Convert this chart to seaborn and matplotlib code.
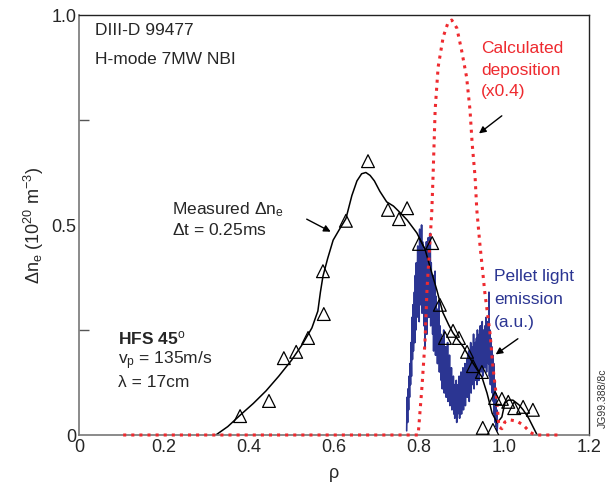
import numpy as np
import pandas as pd
import matplotlib
matplotlib.use("Agg")
import matplotlib.pyplot as plt
import seaborn as sns

# ---------------- data ----------------
# measured points (triangles)
tri_rho = [0.379, 0.447, 0.482, 0.511, 0.539, 0.576, 0.574, 0.628, 0.680, 0.727,
           0.753, 0.772, 0.800, 0.831, 0.849, 0.861, 0.880, 0.894, 0.913, 0.927,
           0.948, 0.979, 0.995, 1.010, 1.024, 1.045, 1.068, 0.950, 0.974]
tri_dn = [0.045, 0.081, 0.183, 0.198, 0.231, 0.288, 0.390, 0.510, 0.652, 0.536,
          0.514, 0.540, 0.455, 0.457, 0.310, 0.231, 0.248, 0.231, 0.198, 0.164,
          0.150, 0.088, 0.086, 0.079, 0.064, 0.067, 0.060, 0.017, 0.012]

# measured fit curve (black)
fit_rho = [0.322, 0.350, 0.380, 0.410, 0.440, 0.470, 0.500, 0.525, 0.548, 0.562,
           0.568, 0.574, 0.585, 0.598, 0.613, 0.628, 0.642, 0.654, 0.665, 0.675,
           0.685, 0.695, 0.708, 0.724, 0.740, 0.755, 0.772, 0.795, 0.814, 0.826,
           0.842, 0.856, 0.870, 0.880, 0.904, 0.927, 0.948, 0.960, 0.972, 0.984,
           0.995, 1.002, 1.010, 1.021, 1.035, 1.045, 1.058, 1.068, 1.078]
fit_dn = [0.000, 0.020, 0.048, 0.075, 0.105, 0.140, 0.178, 0.215, 0.255, 0.295,
          0.340, 0.378, 0.420, 0.464, 0.490, 0.515, 0.570, 0.605, 0.622, 0.625,
          0.618, 0.605, 0.580, 0.555, 0.545, 0.530, 0.512, 0.481, 0.443, 0.400,
          0.345, 0.292, 0.262, 0.243, 0.210, 0.171, 0.138, 0.100, 0.052, 0.029,
          0.043, 0.076, 0.083, 0.083, 0.072, 0.060, 0.040, 0.020, 0.000]

# calculated deposition x0.4 (red dotted)
dep_rho = [0.104, 0.798, 0.807, 0.814, 0.819, 0.826, 0.830, 0.833, 0.838, 0.845,
           0.857, 0.868, 0.877, 0.889, 0.900, 0.912, 0.920, 0.925, 0.932, 0.936,
           0.943, 0.955, 0.967, 0.974, 0.983, 0.988, 0.995, 1.002, 1.014, 1.030,
           1.045, 1.061, 1.073, 1.137]
dep_dn = [0.000, 0.000, 0.115, 0.220, 0.350, 0.464, 0.530, 0.614, 0.774, 0.876,
          0.948, 0.981, 0.988, 0.969, 0.917, 0.852, 0.774, 0.695, 0.614, 0.536,
          0.457, 0.338, 0.243, 0.162, 0.083, 0.019, 0.015, 0.031, 0.036, 0.033,
          0.024, 0.007, 0.000, 0.000]

# pellet light emission (blue), sampled evenly from rho_start to rho_end
emis_rho_start, emis_rho_end = 0.771, 0.985
emis = [0.01, 0.09, 0.03, 0.11, 0.06, 0.14, 0.09, 0.17, 0.12,
        0.22, 0.14, 0.28, 0.18, 0.31, 0.20, 0.26, 0.34, 0.22,
        0.38, 0.25, 0.41, 0.28, 0.36, 0.45, 0.30, 0.42, 0.27,
        0.49, 0.31, 0.44, 0.36, 0.50, 0.29, 0.46, 0.34, 0.41,
        0.26, 0.44, 0.21, 0.38, 0.30, 0.46, 0.24, 0.40, 0.32,
        0.47, 0.28, 0.43, 0.33, 0.48, 0.26, 0.41, 0.30, 0.37,
        0.24, 0.38, 0.20, 0.35, 0.27, 0.39, 0.19, 0.33, 0.25,
        0.30, 0.17, 0.28, 0.21, 0.32, 0.15, 0.26, 0.18, 0.24,
        0.13, 0.23, 0.11, 0.20, 0.14, 0.25, 0.10, 0.19, 0.12,
        0.21, 0.09, 0.18, 0.12, 0.22, 0.08, 0.17, 0.11, 0.19,
        0.07, 0.15, 0.09, 0.16, 0.06, 0.13, 0.08, 0.14, 0.05,
        0.12, 0.04, 0.11, 0.07, 0.13, 0.03, 0.10, 0.05, 0.12,
        0.06, 0.14, 0.04, 0.11, 0.07, 0.15, 0.05, 0.12, 0.08,
        0.16, 0.06, 0.13, 0.09, 0.17, 0.07, 0.14, 0.10, 0.18,
        0.09, 0.19, 0.11, 0.20, 0.08, 0.17, 0.12, 0.22, 0.10,
        0.21, 0.12, 0.19, 0.14, 0.24, 0.11, 0.20, 0.13, 0.22,
        0.14, 0.23, 0.12, 0.25, 0.16, 0.21, 0.13, 0.24, 0.17,
        0.26, 0.15, 0.23, 0.18, 0.27, 0.14, 0.25, 0.17, 0.22,
        0.16, 0.26, 0.19, 0.28, 0.15, 0.24, 0.20, 0.27, 0.17,
        0.34, 0.14, 0.25, 0.12, 0.23, 0.16, 0.21, 0.10, 0.19,
        0.08, 0.17, 0.05, 0.13, 0.03, 0.10, 0.02, 0.06, 0.01, 0.03]
emis_rho = np.linspace(emis_rho_start, emis_rho_end, len(emis))

x_ticks = [0, 0.2, 0.4, 0.6, 0.8, 1.0, 1.2]
x_ticklabels = ["0", "0.2", "0.4", "0.6", "0.8", "1.0", "1.2"]
y_ticks = [0, 0.5, 1.0]
y_ticklabels = ["0", "0.5", "1.0"]

# ---------------- style ----------------
sns.set_style("white")
plt.rcParams["font.family"] = ["Liberation Sans", "DejaVu Sans"]
plt.rcParams["mathtext.fontset"] = "custom"
plt.rcParams["mathtext.rm"] = "Liberation Sans"
plt.rcParams["mathtext.it"] = "Liberation Sans"

RED = "#ee2a2f"
BLUE = "#2b3592"

fig = plt.figure(figsize=(6.11, 4.92), dpi=100)
ax = fig.add_axes([79 / 611, 57 / 492, 510 / 611, 420 / 492])

sns.lineplot(x=[float(v) for v in emis_rho], y=emis, ax=ax, color=BLUE,
             linewidth=1.2, sort=False, estimator=None)
sns.lineplot(x=dep_rho, y=dep_dn, ax=ax, color=RED, linewidth=2.2,
             linestyle=":", sort=False, estimator=None, clip_on=False,
             zorder=4)
sns.lineplot(x=fit_rho, y=fit_dn, ax=ax, color="black", linewidth=1.1,
             sort=False, estimator=None)
sns.scatterplot(x=tri_rho, y=tri_dn, ax=ax, marker="^", s=85,
                facecolor="none", edgecolor="black", linewidth=0.9, zorder=5)

ax.set_xlim(0, 1.2)
ax.set_ylim(0, 1.0)
ax.set_xticks(x_ticks)
ax.set_xticklabels(x_ticklabels)
ax.set_yticks(y_ticks)
ax.set_yticklabels(y_ticklabels)
ax.set_yticks([0.25, 0.75], minor=True)
ax.tick_params(axis="both", which="both", direction="in", labelsize=13,
               color="#555555", width=1, pad=3)
ax.tick_params(axis="x", which="major", length=7)
ax.tick_params(axis="y", which="major", length=7, pad=2)
ax.tick_params(axis="y", which="minor", length=7, left=True)

for side in ["left", "bottom"]:
    ax.spines[side].set_color("#777777")
    ax.spines[side].set_linewidth(1.2)
for side in ["top", "right"]:
    ax.spines[side].set_color("#222222")
    ax.spines[side].set_linewidth(1.0)
    ax.spines[side].set_visible(True)

ax.set_xlabel("ρ", fontsize=13, labelpad=6)
ax.set_ylabel(r"$\Delta$n$_{\mathrm{e}}$ (10$^{20}$ m$^{-3}$)", fontsize=13,
              labelpad=4)

# ---------------- annotations ----------------
kw = dict(fontsize=12.5, va="center", ha="left")
ax.text(0.038, 0.962, "DIII-D 99477", **kw)
ax.text(0.038, 0.893, "H-mode 7MW NBI", **kw)
ax.text(0.219, 0.536, r"Measured $\Delta$n$_{\mathrm{e}}$", **kw)
ax.text(0.219, 0.487, r"$\Delta$t = 0.25ms", **kw)
ax.text(0.092, 0.231, "HFS 45$^{\mathrm{o}}$", fontweight="bold", **kw)
ax.text(0.092, 0.177, "v$_{\mathrm{p}}$ = 135m/s", **kw)
ax.text(0.092, 0.126, "λ = 17cm", **kw)

ax.text(0.946, 0.921, "Calculated", color=RED, **kw)
ax.text(0.946, 0.869, "deposition", color=RED, **kw)
ax.text(0.946, 0.817, "(x0.4)", color=RED, **kw)

ax.text(0.976, 0.378, "Pellet light", color=BLUE, **kw)
ax.text(0.976, 0.323, "emission", color=BLUE, **kw)
ax.text(0.976, 0.268, "(a.u.)", color=BLUE, **kw)

arrow = dict(arrowstyle="-|>", color="black", lw=1.0, mutation_scale=10)
ax.annotate("", xy=(0.598, 0.481), xytext=(0.530, 0.517), arrowprops=arrow)
ax.annotate("", xy=(0.936, 0.714), xytext=(1.000, 0.764), arrowprops=arrow)
ax.annotate("", xy=(0.975, 0.188), xytext=(1.038, 0.233), arrowprops=arrow)

fig.text(603 / 611, 1 - 398 / 492, "JG99.388/8c", rotation=90, fontsize=7.5,
         ha="center", va="center", color="#333333")

fig.savefig("out.png", dpi=100)
